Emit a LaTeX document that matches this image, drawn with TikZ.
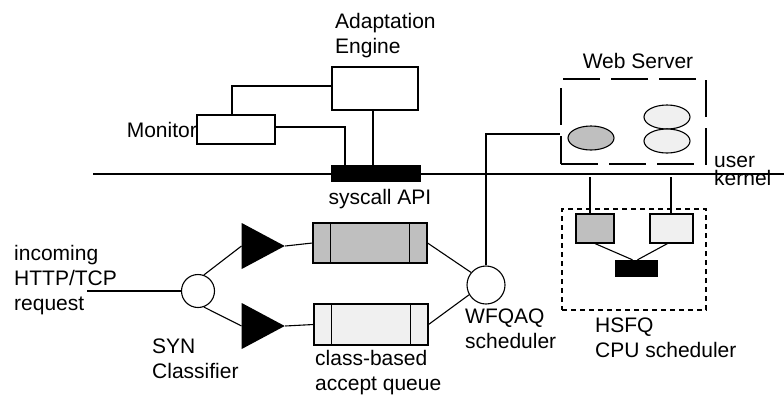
\documentclass[tikz,border=0pt]{standalone}
\usepackage{fontspec}
\setmainfont{Liberation Sans}
\usetikzlibrary{shapes.geometric}

\definecolor{qdark}{gray}{0.75}
\definecolor{qlight}{gray}{0.94}

\tikzset{
  lbl/.style={font=\fontsize{21}{25}\selectfont, inner sep=0pt, align=left},
  wire/.style={line width=1.1pt},
  box/.style={draw, rectangle, line width=1.1pt, inner sep=0pt},
  blk/.style={fill=black, rectangle, inner sep=0pt},
  queue/.style={box, minimum width=114pt, minimum height=40pt},
  proc/.style={draw, ellipse, line width=1.1pt, inner sep=0pt, minimum width=46pt, minimum height=24pt},
  sched/.style={draw, circle, line width=1.1pt, inner sep=0pt},
  tri/.style={isosceles triangle, isosceles triangle stretches, fill=black, inner sep=0pt,
              minimum width=46pt, minimum height=43pt},
}

\begin{document}
\begin{tikzpicture}[x=1pt, y=-1pt]
  \useasboundingbox (0,0) rectangle (784,394);

  % user / kernel boundary
  \coordinate (bl) at (93,174);
  \coordinate (br) at (784,174);
  \draw[wire] (bl) -- (br);
  \node[lbl, anchor=base west] (user) at (714,167) {user};
  \node[lbl, anchor=base west] (kern) at (714,185) {kernel};

  % user space: engine, monitor, syscall API
  \node[box, minimum width=86pt, minimum height=43pt] (eng) at (375,88.5) {};
  \node[lbl, anchor=base west] (engl) at (335,53) {Adaptation\\Engine};
  \node[box, minimum width=78pt, minimum height=29pt] (mon) at (236,129.5) {};
  \node[lbl, anchor=base east] (monl) at (197,137) {Monitor};
  \node[blk, minimum width=90pt, minimum height=17pt] (api) at (376,173.5) {};
  \node[lbl, anchor=base] (apil) at (380,204) {syscall API};

  \draw[wire] ([yshift=2.5pt]eng.west) -| ([xshift=-4pt]mon.north);
  \draw[wire] ([yshift=2.5pt]mon.east) -| ([xshift=-31pt]api.north);
  \draw[wire] ([xshift=-2pt]eng.south) -- ([xshift=-2pt]eng.south |- api.north);

  % web server
  \node[box, dash pattern=on 37pt off 11pt, minimum width=145pt, minimum height=85pt] (ws) at (633.5,121.5) {};
  \node[lbl, anchor=base] (wsl) at (638,68) {Web Server};
  \node[proc, fill=qdark] (ws1) at (591,138) {};
  \node[proc, fill=qlight] (ws2) at (667,117) {};
  \node[proc, fill=qlight] (ws3) at (667,141) {};

  % request path
  \coordinate (in) at (87,291);
  \node[lbl, anchor=base west] (inl) at (14,310) {incoming\\HTTP/TCP\\request};
  \node[sched, minimum size=33pt] (syn) at (198,291) {};
  \node[lbl, anchor=base west] (synl) at (152,378) {SYN\\Classifier};
  \node[tri] (t1) at (255.5,246) {};
  \node[tri] (t2) at (255.5,326) {};
  \node[queue, fill=qdark] (q1) at (370,243) {};
  \node[queue, fill=qlight, minimum height=41pt] (q2) at (371,324.5) {};
  \node[lbl, anchor=base west] (ql) at (315,390) {class-based\\accept queue};
  \foreach \q in {q1,q2} {
    \draw[wire] ([xshift=18pt]\q.north west) -- ([xshift=18pt]\q.south west);
    \draw[wire] ([xshift=-18pt]\q.north east) -- ([xshift=-18pt]\q.south east);
  }
  \node[sched, minimum size=38pt] (wf) at (486,285) {};
  \node[lbl, anchor=base west] (wfl) at (465,348) {WFQAQ\\scheduler};

  \draw[wire] (in) -- (syn.west);
  \draw[wire] (syn.70) -- (t1.west);
  \draw[wire] (syn.-70) -- (t2.west);
  \draw[wire] (t1.east) -- (q1.west);
  \draw[wire] (t2.east) -- (q2.west);
  \draw[wire] (q1.east) -- (wf.140);
  \draw[wire] (q2.east) -- (wf.210);
  \draw[wire] (wf.north) |- ([yshift=-12.5pt]ws.west);

  % kernel CPU scheduler
  \node[box, dash pattern=on 5pt off 4pt, minimum width=144pt, minimum height=101pt] (hs) at (634,259.5) {};
  \node[lbl, anchor=base west] (hsl) at (595,357) {HSFQ\\CPU scheduler};
  \node[box, fill=qdark, minimum width=38pt, minimum height=29pt] (c1) at (595,228.5) {};
  \node[box, fill=qlight, minimum width=43pt, minimum height=29pt] (c2) at (671.5,228.5) {};
  \node[blk, minimum width=43pt, minimum height=17pt] (cpu) at (636.5,268.5) {};
  \coordinate (k1) at (590,177);
  \coordinate (k2) at (671,177);
  \draw[wire] (k1) -- (k1 |- c1.north);
  \draw[wire] (k2) -- (k2 |- c2.north);
  \draw[wire] (c1.south) -- ([xshift=-4pt]cpu.north);
  \draw[wire] ([xshift=-4pt]c2.south) -- ([xshift=1pt]cpu.north);
\end{tikzpicture}
\end{document}
